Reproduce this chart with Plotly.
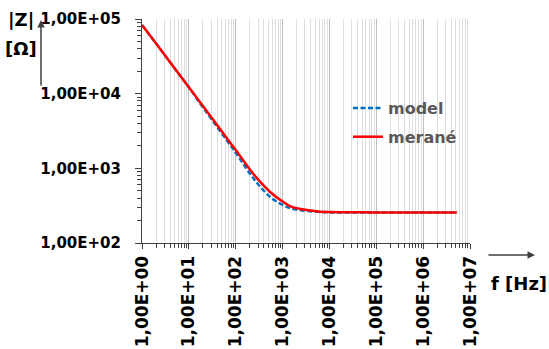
import plotly.graph_objects as go

# ---- data ----
freq_hz = [1, 2, 5, 10, 17.8, 31.6, 77, 100, 206, 316, 550, 1000, 1480, 2400,
           3980, 6460, 1e4, 3.16e4, 1e5, 1e6, 5.25e6]
z_model = [83200, 46800, 21700, 12200, 7240, 4420, 2040, 1620, 832, 589, 412,
           324, 292, 275, 266, 260, 257, 257, 256, 256, 256]
z_merane = [83200, 46800, 21700, 12200, 7520, 4660, 2190, 1760, 944, 684, 479,
            359, 309, 285, 272, 263, 260, 258, 257, 257, 257]

x_alias = {"1": "1,00E+00", "10": "1,00E+01", "100": "1,00E+02", "1000": "1,00E+03",
           "10k": "1,00E+04", "100k": "1,00E+05", "1M": "1,00E+06", "10M": "1,00E+07"}
y_alias = {"100": "1,00E+02", "1000": "1,00E+03", "10k": "1,00E+04", "100k": "1,00E+05"}

W, H = 549, 349
L, R, T, B = 142, 79, 19, 106
PW, PH = W - L - R, H - T - B


def px(x):
    return (x - L) / PW


def py(y):
    return (H - B - y) / PH


FONT = "DejaVu Sans"

fig = go.Figure()
fig.add_trace(go.Scatter(x=freq_hz, y=z_model, name="model", mode="lines",
                         line=dict(color="#0070c0", width=2.5, dash="5px,2.5px", shape="spline"),
                         legendgroup="a"))
fig.add_trace(go.Scatter(x=freq_hz, y=z_merane, name="merané", mode="lines",
                         line=dict(color="#ff0000", width=2.5, shape="spline"),
                         legendgroup="b"))

fig.update_layout(
    width=W, height=H, autosize=False,
    margin=dict(l=L, r=R, t=T, b=B, pad=0, autoexpand=False),
    paper_bgcolor="white", plot_bgcolor="white",
    showlegend=True,
    legend=dict(x=px(348), y=py(91), xanchor="left", yanchor="top",
                bgcolor="rgba(0,0,0,0)", borderwidth=0, itemwidth=30,
                tracegroupgap=5,
                font=dict(family=FONT, size=16, color="#595959", weight="bold")),
    xaxis=dict(type="log", range=[0, 7], tickmode="linear", tick0=0, dtick=1,
               labelalias=x_alias, tickangle=-90, automargin=False,
               tickfont=dict(family=FONT, size=17, color="black", weight="bold"),
               showline=True, linecolor="#404040", linewidth=1,
               ticks="outside", ticklen=5, tickcolor="#404040",
               showgrid=True, gridcolor="#bfbfbf", gridwidth=1,
               minor=dict(dtick="D1", ticks="outside", ticklen=4, tickcolor="#404040",
                          showgrid=True, gridcolor="#dedede", gridwidth=1),
               zeroline=False, fixedrange=True),
    yaxis=dict(type="log", range=[2, 5], tickmode="linear", tick0=0, dtick=1,
               labelalias=y_alias, automargin=False,
               tickfont=dict(family=FONT, size=15, color="black", weight="bold"),
               ticklabelstandoff=11,
               showline=True, linecolor="#404040", linewidth=1,
               ticks="outside", ticklen=6, tickcolor="#404040",
               showgrid=False,
               minor=dict(dtick="D1", ticks="outside", ticklen=4, tickcolor="#404040",
                          showgrid=False),
               zeroline=False, fixedrange=True),
)

annots = [
    dict(x=px(21), y=py(20), text="|Z|", size=18),
    dict(x=px(21), y=py(49), text="[Ω]", size=18),
    dict(x=px(519), y=py(283), text="f [Hz]", size=18),
]
for a in annots:
    fig.add_annotation(xref="paper", yref="paper", x=a["x"], y=a["y"], text=a["text"],
                       showarrow=False, xanchor="center", yanchor="middle",
                       font=dict(family=FONT, size=a["size"], color="black", weight="bold"))

# axis arrows
fig.add_annotation(xref="paper", yref="paper", x=px(41), y=py(20), text="",
                   showarrow=True, ax=0, ay=67, arrowhead=2, arrowsize=1,
                   arrowwidth=1.5, arrowcolor="#404040")
fig.add_annotation(xref="paper", yref="paper", x=px(535), y=py(255), text="",
                   showarrow=True, ax=-48, ay=0, arrowhead=2, arrowsize=1,
                   arrowwidth=1.5, arrowcolor="#404040")

fig.write_html("out.html")
